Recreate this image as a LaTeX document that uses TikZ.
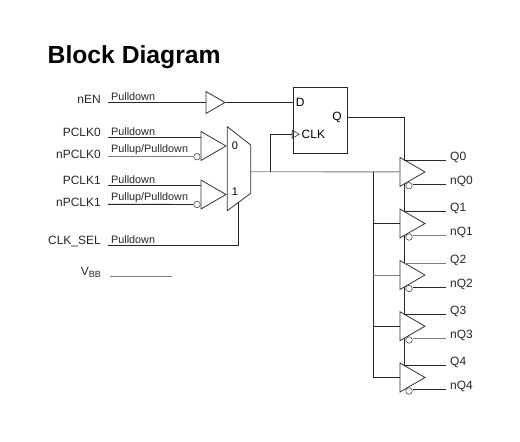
\documentclass[tikz,border=0pt]{standalone}
\usepackage{fontspec}
\setmainfont{Liberation Sans}
\usetikzlibrary{shapes.geometric}
\definecolor{wiregray}{RGB}{125,125,125}

\begin{document}
\begin{tikzpicture}[x=1pt, y=-1pt,
  wire/.style={line width=0.9pt, black!85},
  graywire/.style={line width=0.9pt, wiregray},
  buf/.style={draw=black!80, line width=0.8pt, fill=white, isosceles triangle, isosceles triangle stretches,
              inner sep=0pt, anchor=apex, minimum width=29pt, minimum height=25pt},
  bubble/.style={draw=black!70, line width=0.6pt, fill=white, circle, inner sep=0pt, minimum size=6.5pt},
  sig/.style={anchor=east, inner sep=0pt, font=\fontsize{12}{12}\selectfont, text=black!85},
  pull/.style={anchor=south west, inner xsep=3pt, inner ysep=1.5pt, font=\fontsize{10.8}{11}\selectfont, text=black!85},
  outlbl/.style={anchor=base west, inner xsep=4pt, inner ysep=0pt, font=\fontsize{12}{12}\selectfont, text=black!85}]
  \useasboundingbox (0,0) rectangle (520,442);
  \node[anchor=west, inner sep=0pt, font=\fontsize{24.7}{25}\selectfont\bfseries] (title) at (47.5,57) {Block Diagram};

  % input names
  \node[sig] (nen) at (101,99) {nEN};
  \node[sig] (pclk0) at (101,132.7) {PCLK0};
  \node[sig] (npclk0) at (101,154) {nPCLK0};
  \node[sig] (pclk1) at (101,180) {PCLK1};
  \node[sig] (npclk1) at (101,202) {nPCLK1};
  \node[sig] (clksel) at (101,241) {CLK\_SEL};
  \node[sig] (vbb) at (101,272) {V\raisebox{-2pt}{\fontsize{9}{9}\selectfont BB}};

  % pull resistors, sitting on their wires
  \node[pull] (nenpull) at (108,102.5) {Pulldown};
  \node[pull] (pclk0pull) at (108,137) {Pulldown};
  \node[pull] (npclk0pull) at (108,156.7) {Pullup/Pulldown};
  \node[pull] (pclk1pull) at (108,185.3) {Pulldown};
  \node[pull] (npclk1pull) at (108,204.3) {Pullup/Pulldown};
  \node[pull] (clkselpull) at (108,245) {Pulldown};
  \coordinate (vbbstart) at (110,276);
  \coordinate (vbbend) at (172,276);
  \draw[graywire] (vbbstart) -- (vbbend);

  % input buffers and mux
  \node[buf, minimum width=22pt, minimum height=19pt] (enbuf) at (226,102.5) {};
  \node[buf] (inbuf0) at (227,146) {};
  \node[buf] (inbuf1) at (227,194.5) {};
  \node[bubble] (inbub0) at (197,156.7) {};
  \node[bubble] (inbub1) at (197,204.5) {};
  \coordinate (muxout) at (250.7,171.7);
  \coordinate (selpin) at (238,202.5);
  \draw[line width=0.8pt, black!80] (227.3,126.7) -- (250.7,145) -- (250.7,193.3) -- (227.3,210.7) -- cycle;
  \node[font=\fontsize{11}{11}\selectfont, inner sep=0pt] (mux0) at (235,145.7) {0};
  \node[font=\fontsize{11}{11}\selectfont, inner sep=0pt] (mux1) at (235,191.7) {1};

  \draw[wire] (nenpull.south west) -- (enbuf.west);
  \draw[wire] (pclk0pull.south west) -- (pclk0pull.south west -| inbuf0.west);
  \draw[graywire] (npclk0pull.south west) -- (inbub0.west);
  \draw[wire] (pclk1pull.south west) -- (pclk1pull.south west -| inbuf1.west);
  \draw[wire] (npclk1pull.south west) -- (inbub1.west);
  \draw[wire] (clkselpull.south west) -| (selpin);

  % flip-flop
  \node[draw=black!85, line width=0.9pt, minimum width=54pt, minimum height=66pt, inner sep=0pt] (ff) at (320,120) {};
  \node[anchor=west, inner xsep=3pt, inner ysep=0pt, font=\fontsize{12}{12}\selectfont] (dpin) at (ff.west |- enbuf.apex) {D};
  \node[anchor=east, inner xsep=5pt, inner ysep=0pt, font=\fontsize{12}{12}\selectfont] (qpin) at (347,117) {Q};
  \node[buf, fill=none, line width=0.6pt, minimum width=8pt, minimum height=7pt] (ckpin) at (300,134.3) {};
  \node[anchor=west, inner xsep=1.5pt, inner ysep=0pt, font=\fontsize{12}{12}\selectfont] (ckname) at (ckpin.apex) {CLK};
  \draw[wire] (enbuf.apex) -- (dpin.west);

  % data and clock rails behind the output buffers
  \coordinate (qrail) at (404,365);
  \coordinate (ckrail) at (373.3,171.7);
  \coordinate (cksplit) at (270,171.7);
  \draw[wire] (qpin.east) -| (qrail);

  % output buffers
  \node[buf] (buf0) at (426,171.9) {};
  \node[buf] (buf1) at (426,223.5) {};
  \node[buf] (buf2) at (426,275) {};
  \node[buf] (buf3) at (426,326.2) {};
  \node[buf] (buf4) at (426,377.5) {};
  \node[bubble] (bub0) at (409,185.7) {};
  \node[bubble] (bub1) at (409,237) {};
  \node[bubble] (bub2) at (409,288.5) {};
  \node[bubble] (bub3) at (409,340) {};
  \node[bubble] (bub4) at (409,391) {};

  \draw[graywire] (muxout) -- (buf0.west);
  \draw[wire] (cksplit) |- (ckpin.west);
  \draw[wire] (ckrail) |- (buf4.west);
  \draw[wire] (buf1.west -| ckrail) -- (buf1.west);
  \draw[graywire] (buf2.west -| ckrail) -- (buf2.west);
  \draw[wire] (buf3.west -| ckrail) -- (buf3.west);

  % output names
  \node[outlbl] (q0) at (446,160) {Q0};
  \node[outlbl] (nq0) at (446,184) {nQ0};
  \node[outlbl] (q1) at (446,211) {Q1};
  \node[outlbl] (nq1) at (446,235) {nQ1};
  \node[outlbl] (q2) at (446,263) {Q2};
  \node[outlbl] (nq2) at (446,287) {nQ2};
  \node[outlbl] (q3) at (446,314) {Q3};
  \node[outlbl] (nq3) at (446,338) {nQ3};
  \node[outlbl] (q4) at (446,365) {Q4};
  \node[outlbl] (nq4) at (446,389) {nQ4};

  \draw[wire] (q0.base west) -- (q0.base west -| qrail);
  \draw[wire] (nq0.base west) -- (nq0.base west -| bub0.east);
  \draw[wire] (q1.base west) -- (q1.base west -| qrail);
  \draw[graywire] (nq1.base west) -- (nq1.base west -| bub1.east);
  \draw[graywire] (q2.base west) -- (q2.base west -| qrail);
  \draw[wire] (nq2.base west) -- (nq2.base west -| bub2.east);
  \draw[wire] (q3.base west) -- (q3.base west -| qrail);
  \draw[graywire] (nq3.base west) -- (nq3.base west -| bub3.east);
  \draw[wire] (q4.base west) -- (q4.base west -| qrail);
  \draw[wire] (nq4.base west) -- (nq4.base west -| bub4.east);
\end{tikzpicture}
\end{document}
